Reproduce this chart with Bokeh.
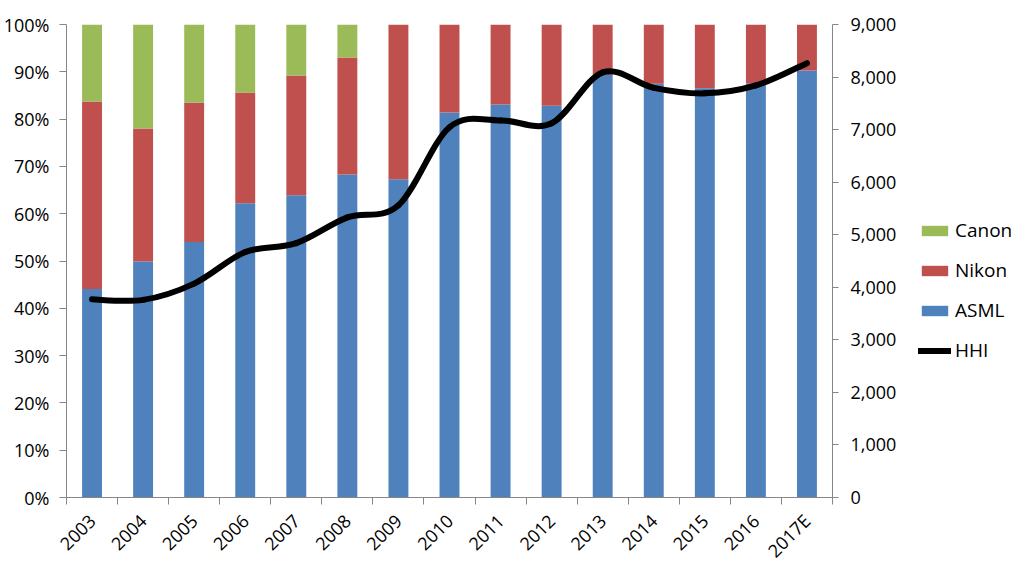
from bokeh.plotting import figure
from bokeh.layouts import row
from bokeh.models import (Range1d, LinearAxis, FixedTicker, PrintfTickFormatter,
                          NumeralTickFormatter, Legend, LegendItem, ColumnDataSource)
from bokeh.embed import file_html
from bokeh.resources import INLINE

years = ["2003", "2004", "2005", "2006", "2007", "2008", "2009", "2010",
         "2011", "2012", "2013", "2014", "2015", "2016", "2017E"]
asml = [44.1, 49.9, 54.0, 62.2, 63.9, 68.3, 67.3, 81.4, 83.1, 82.8, 89.3, 87.5, 86.5, 87.6, 90.3]
nikon = [39.6, 28.1, 29.5, 23.4, 25.3, 24.7, 32.7, 18.6, 16.9, 17.2, 10.7, 12.5, 13.5, 12.4, 9.7]
canon = [16.3, 22.0, 16.5, 14.4, 10.8, 7.0, 0, 0, 0, 0, 0, 0, 0, 0, 0]
hhi = [3770, 3760, 4070, 4670, 4840, 5330, 5560, 7045, 7175, 7120, 8090, 7795, 7690, 7840, 8265]

BLUE, RED, GREEN = "#4F81BD", "#C0504D", "#9BBB59"
AXIS_GREY = "#868686"
FONT = "Open Sans"

n = len(years)
xc = [i + 0.5 for i in range(n)]

src = ColumnDataSource(dict(x=xc, ASML=asml, Nikon=nikon, Canon=canon))

p = figure(frame_width=766, frame_height=473, x_range=Range1d(0, n), y_range=Range1d(0, 100),
           output_backend="svg", toolbar_location=None, min_border_top=24,
           min_border_left=0, min_border_right=0, min_border_bottom=0)
p.extra_y_ranges = {"hhi": Range1d(0, 9000)}

rs = p.vbar_stack(["ASML", "Nikon", "Canon"], x="x", width=0.39, source=src,
                  color=[BLUE, RED, GREEN], line_width=0)

# smooth HHI line (Catmull-Rom style Bezier segments through the data points)
x0, y0, x1, y1, cx0, cy0, cx1, cy1 = [], [], [], [], [], [], [], []
for i in range(n - 1):
    pm = (xc[max(i - 1, 0)], hhi[max(i - 1, 0)])
    pa = (xc[i], hhi[i])
    pb = (xc[i + 1], hhi[i + 1])
    pn = (xc[min(i + 2, n - 1)], hhi[min(i + 2, n - 1)])
    x0.append(pa[0]); y0.append(pa[1]); x1.append(pb[0]); y1.append(pb[1])
    cx0.append(pa[0] + (pb[0] - pm[0]) / 6); cy0.append(pa[1] + (pb[1] - pm[1]) / 6)
    cx1.append(pb[0] - (pn[0] - pa[0]) / 6); cy1.append(pb[1] - (pn[1] - pa[1]) / 6)
p.bezier(x0=x0, y0=y0, x1=x1, y1=y1, cx0=cx0, cy0=cy0, cx1=cx1, cy1=cy1,
         y_range_name="hhi", line_color="black", line_width=6, line_cap="round")

p.xgrid.visible = False
p.ygrid.visible = False
p.outline_line_color = None

def style_axis(ax):
    ax.axis_line_color = AXIS_GREY
    ax.major_tick_line_color = AXIS_GREY
    ax.minor_tick_line_color = AXIS_GREY
    ax.major_label_text_font = FONT
    ax.major_label_text_font_size = "18px"
    ax.major_label_text_color = "black"

xa = p.xaxis[0]
xa.ticker = FixedTicker(ticks=xc, minor_ticks=list(range(n + 1)))
xa.major_label_overrides = {x: y for x, y in zip(xc, years)}
xa.major_label_orientation = 0.785398
xa.major_tick_out = 0
xa.major_tick_in = 0
xa.minor_tick_out = 7
xa.minor_tick_in = 0
xa.major_label_standoff = 13
style_axis(xa)

ya = p.yaxis[0]
ya.ticker = FixedTicker(ticks=list(range(0, 101, 10)), minor_ticks=[])
ya.formatter = PrintfTickFormatter(format="%d%%")
ya.major_tick_out = 7
ya.major_tick_in = 0
ya.major_label_standoff = 10
style_axis(ya)

ra = LinearAxis(y_range_name="hhi", ticker=FixedTicker(ticks=list(range(0, 9001, 1000)), minor_ticks=[]),
                formatter=NumeralTickFormatter(format="0,0"))
ra.major_tick_out = 6
ra.major_tick_in = 0
ra.major_label_standoff = 12
style_axis(ra)
p.add_layout(ra, "right")

# legend panel (separate blank figure placed to the right); its sample
# renderers sit outside the visible range so only the legend swatches show
lg = figure(width=112, height=497, x_range=Range1d(0, 1), y_range=Range1d(0, 1),
            output_backend="svg", toolbar_location=None, min_border=0,
            x_axis_type=None, y_axis_type=None)
lg.xgrid.visible = False
lg.ygrid.visible = False
lg.outline_line_color = None
l_canon = lg.vbar(x=[5], top=[6], bottom=[5], width=0.5, color=GREEN, line_width=0)
l_nikon = lg.vbar(x=[5], top=[6], bottom=[5], width=0.5, color=RED, line_width=0)
l_asml = lg.vbar(x=[5], top=[6], bottom=[5], width=0.5, color=BLUE, line_width=0)
l_hhi = lg.line(x=[5, 6], y=[5, 5], line_color="black", line_width=6, line_cap="round")

legend = Legend(items=[LegendItem(label="Canon", renderers=[l_canon]),
                       LegendItem(label="Nikon", renderers=[l_nikon]),
                       LegendItem(label="ASML", renderers=[l_asml]),
                       LegendItem(label="HHI", renderers=[l_hhi])],
                location=(19, 58), orientation="vertical",
                glyph_width=33, glyph_height=13, label_standoff=4,
                label_height=20, spacing=14, padding=0, margin=0,
                border_line_color=None, background_fill_alpha=0,
                label_text_font=FONT, label_text_font_size="19px", label_text_color="black")
lg.add_layout(legend, "center")

layout = row(p, lg, spacing=0)
open("out.html", "w").write(file_html(layout, INLINE))
